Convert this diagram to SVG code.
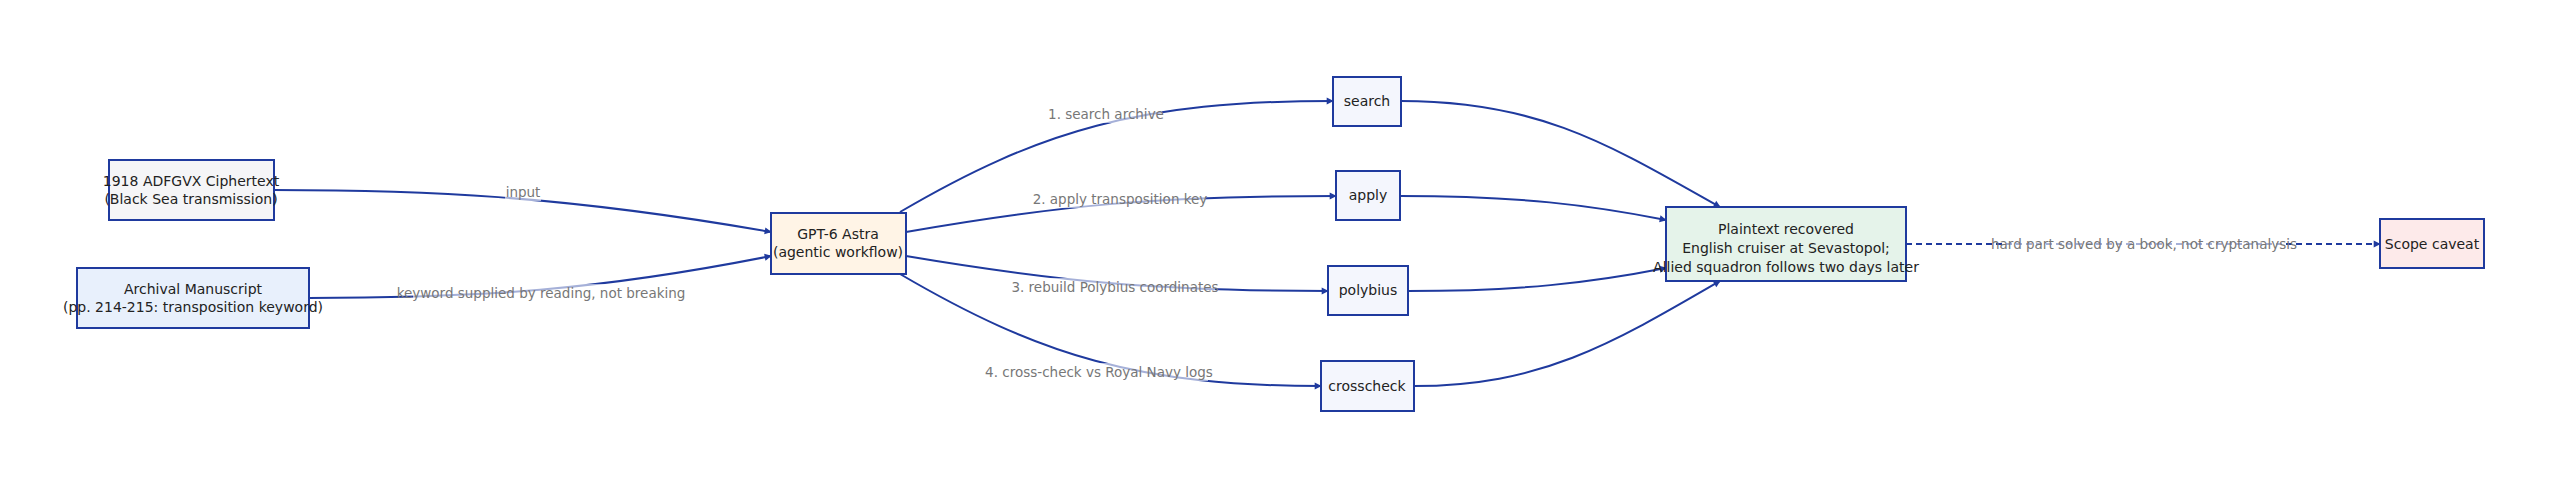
<svg xmlns="http://www.w3.org/2000/svg" width="2560" height="488" viewBox="0 0 2560 488">
<defs>
<marker id="arr" viewBox="0 0 10 10" refX="9" refY="5" markerWidth="7" markerHeight="7" orient="auto-start-reverse" markerUnits="userSpaceOnUse" style="overflow:visible"><path d="M0,0 L10,5 L0,10 z" fill="#1f3a9e"/></marker>
<style>
.n{stroke:#1f3a9e;stroke-width:2}
.t{font-family:"DejaVu Sans",sans-serif;font-size:14px;fill:#222;text-anchor:middle}
.e{fill:none;stroke:#1f3a9e;stroke-width:2;marker-end:url(#arr)}
.l{font-family:"DejaVu Sans",sans-serif;font-size:13.5px;fill:#777;text-anchor:middle}
.lb{fill:#fff;opacity:0.6}
</style>
</defs>
<rect width="2560" height="488" fill="#fff"/>
<g id="edges">
<path class="e" d="M274,190 C420,190 560,195 771,232"/>
<path class="e" d="M309,298 C480,298 600,290 771,256"/>
<path class="e" d="M900,212 C1040,130 1140,101 1333,101"/>
<path class="e" d="M906,232 C1060,205 1160,196 1336,196"/>
<path class="e" d="M906,256 C1060,282 1160,291 1328,291"/>
<path class="e" d="M900,274 C1040,356 1140,386 1321,386"/>
<path class="e" d="M1401,101 C1540,101 1610,145 1720,207"/>
<path class="e" d="M1400,196 C1520,196 1590,205 1666,220"/>
<path class="e" d="M1408,291 C1520,291 1590,283 1666,268"/>
<path class="e" d="M1414,386 C1540,386 1610,345 1720,281"/>
<path class="e" d="M1906,244 L2380,244" stroke-dasharray="6,4"/>
<g>
<rect class="lb" x="505" y="183" width="36" height="18"/><text class="l" x="523" y="197">input</text>
<rect class="lb" x="413" y="284" width="256" height="18"/><text class="l" x="541" y="298">keyword supplied by reading, not breaking</text>
<rect class="lb" x="1050" y="105" width="112" height="18"/><text class="l" x="1106" y="119">1. search archive</text>
<rect class="lb" x="1035" y="190" width="170" height="18"/><text class="l" x="1120" y="204">2. apply transposition key</text>
<rect class="lb" x="1015" y="278" width="200" height="18"/><text class="l" x="1115" y="292">3. rebuild Polybius coordinates</text>
<rect class="lb" x="990" y="363" width="218" height="18"/><text class="l" x="1099" y="377">4. cross-check vs Royal Navy logs</text>
<rect class="lb" x="2005" y="235" width="278" height="18"/><text class="l" x="2144" y="249">hard part solved by a book, not cryptanalysis</text>
</g>
</g>
<g id="cipher"><rect class="n" x="109" y="160" width="165" height="60" fill="#f5f5f7"/><text class="t" x="191" y="186">1918 ADFGVX Ciphertext</text><text class="t" x="191" y="204">(Black Sea transmission)</text></g>
<g id="archival"><rect class="n" x="77" y="268" width="232" height="60" fill="#e8f0fc"/><text class="t" x="193" y="294">Archival Manuscript</text><text class="t" x="193" y="312">(pp. 214-215: transposition keyword)</text></g>
<g id="gpt"><rect class="n" x="771" y="213" width="135" height="61" fill="#fff4e6"/><text class="t" x="838" y="239">GPT-6 Astra</text><text class="t" x="838" y="257">(agentic workflow)</text></g>
<g id="search"><rect class="n" x="1333" y="77" width="68" height="49" fill="#f4f6fd"/><text class="t" x="1367" y="106">search</text></g>
<g id="apply"><rect class="n" x="1336" y="171" width="64" height="49" fill="#f4f6fd"/><text class="t" x="1368" y="200">apply</text></g>
<g id="polybius"><rect class="n" x="1328" y="266" width="80" height="49" fill="#f4f6fd"/><text class="t" x="1368" y="295">polybius</text></g>
<g id="crosscheck"><rect class="n" x="1321" y="361" width="93" height="50" fill="#f4f6fd"/><text class="t" x="1367" y="391">crosscheck</text></g>
<g id="plaintext"><rect class="n" x="1666" y="207" width="240" height="74" fill="#e5f3ea"/><text class="t" x="1786" y="234">Plaintext recovered</text><text class="t" x="1786" y="253">English cruiser at Sevastopol;</text><text class="t" x="1786" y="272">Allied squadron follows two days later</text></g>
<g id="scope"><rect class="n" x="2380" y="219" width="104" height="49" fill="#fdeaea"/><text class="t" x="2432" y="249">Scope caveat</text></g>
</svg>
